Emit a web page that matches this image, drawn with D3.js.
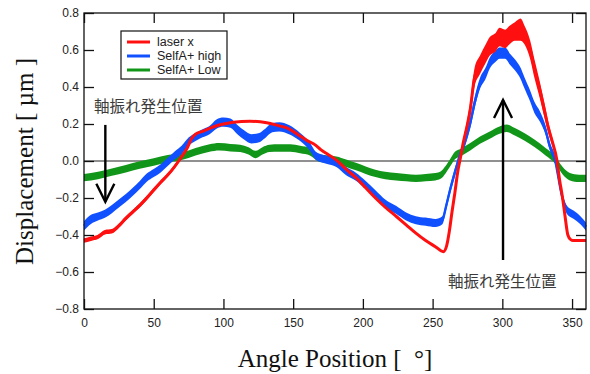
<!DOCTYPE html>
<html>
<head>
<meta charset="utf-8">
<script src="https://cdn.jsdelivr.net/npm/d3@7"></script>
<style>
  body { margin: 0; background: #fff; }
  svg { display: block; }
</style>
</head>
<body>
<div id="chart"></div>
<script>
// [angle (deg), displacement (um), half spread of the noisy trace (um)]
const laserX = [
  [0, -0.43, 0.012], [5, -0.42, 0.012], [10, -0.41, 0.012], [15, -0.385, 0.012], [20, -0.38, 0.012],
  [25, -0.35, 0.012], [30, -0.31, 0.012], [35, -0.275, 0.012], [40, -0.24, 0.012], [45, -0.2, 0.012],
  [50, -0.157, 0.012], [55, -0.115, 0.01], [60, -0.076, 0.01], [65, -0.03, 0.01], [70, 0.023, 0.008],
  [74, 0.07, 0.006], [77, 0.12, 0.004], [80, 0.145, 0.004], [85, 0.16, 0.004], [93, 0.185, 0.004],
  [100, 0.2, 0.004], [107, 0.21, 0.004], [119, 0.215, 0.004], [131, 0.207, 0.004], [140, 0.19, 0.004],
  [145, 0.18, 0.004], [150, 0.16, 0.004], [155, 0.135, 0.004], [160, 0.11, 0.004], [166, 0.086, 0.004],
  [170, 0.06, 0.004], [175, 0.035, 0.004], [181, 0.005, 0.004], [188, -0.045, 0.004], [195, -0.09, 0.004],
  [202, -0.145, 0.004], [209, -0.2, 0.004], [216, -0.25, 0.004], [224, -0.3, 0.004], [231, -0.345, 0.004],
  [238, -0.39, 0.004], [245, -0.43, 0.004], [252, -0.463, 0.004], [257.7, -0.49, 0.004], [260, -0.46, 0.006],
  [262, -0.38, 0.008], [264, -0.27, 0.01], [266, -0.17, 0.01], [268, -0.06, 0.012], [270, 0.02, 0.015],
  [272, 0.1, 0.02], [275, 0.2, 0.03], [277, 0.28, 0.04], [280, 0.45, 0.05], [284, 0.52, 0.05],
  [288, 0.58, 0.05], [291, 0.62, 0.05], [295, 0.64, 0.05], [298, 0.67, 0.05], [302, 0.66, 0.05],
  [305, 0.68, 0.05], [309, 0.7, 0.05], [313, 0.71, 0.06], [316, 0.68, 0.05], [320, 0.6, 0.05],
  [323, 0.5, 0.05], [327, 0.38, 0.045], [330, 0.28, 0.04], [333, 0.18, 0.03], [336, 0.1, 0.02],
  [339, 0.01, 0.015], [341, -0.1, 0.01], [343, -0.19, 0.01], [345, -0.3, 0.008], [347, -0.4, 0.006],
  [349, -0.425, 0.006], [351, -0.43, 0.006], [355, -0.43, 0.006], [360, -0.43, 0.006]
];

const selfHigh = [
  [0, -0.35, 0.025], [5, -0.315, 0.025], [10, -0.3, 0.022], [15, -0.285, 0.022], [20, -0.26, 0.022],
  [25, -0.23, 0.022], [30, -0.2, 0.022], [35, -0.166, 0.022], [40, -0.13, 0.022], [45, -0.09, 0.022],
  [50, -0.065, 0.022], [55, -0.04, 0.022], [60, -0.005, 0.022], [65, 0.03, 0.022], [70, 0.06, 0.022],
  [75, 0.105, 0.022], [80, 0.13, 0.022], [85, 0.15, 0.022], [90, 0.167, 0.022], [95, 0.2, 0.025],
  [100, 0.21, 0.025], [105, 0.205, 0.025], [110, 0.17, 0.025], [115, 0.14, 0.025], [120, 0.12, 0.025],
  [125, 0.125, 0.025], [130, 0.15, 0.025], [135, 0.18, 0.025], [140, 0.185, 0.025], [147, 0.17, 0.025],
  [155, 0.13, 0.022], [162, 0.077, 0.022], [166, 0.03, 0.022], [170, 0.015, 0.022], [175, 0.005, 0.022],
  [181, -0.01, 0.022], [188, -0.055, 0.022], [195, -0.085, 0.022], [202, -0.13, 0.022], [209, -0.18, 0.022],
  [216, -0.23, 0.022], [224, -0.265, 0.022], [231, -0.3, 0.022], [238, -0.32, 0.022], [245, -0.328, 0.022],
  [252, -0.335, 0.022], [257, -0.32, 0.022], [259.5, -0.25, 0.022], [262.5, -0.157, 0.022], [266, -0.06, 0.022],
  [270, 0.04, 0.022], [273, 0.1, 0.025], [277, 0.205, 0.028], [280, 0.31, 0.03], [284, 0.42, 0.03],
  [288, 0.475, 0.03], [291, 0.53, 0.03], [295, 0.565, 0.03], [298, 0.583, 0.03], [302, 0.583, 0.03],
  [305.5, 0.55, 0.03], [309, 0.52, 0.03], [313, 0.475, 0.03], [316, 0.42, 0.03], [320, 0.35, 0.03],
  [323, 0.29, 0.03], [327, 0.24, 0.028], [331, 0.167, 0.025], [334, 0.08, 0.022], [338, 0.0, 0.022],
  [339.5, -0.06, 0.022], [342.5, -0.18, 0.022], [346, -0.26, 0.022], [351, -0.29, 0.022], [356, -0.32, 0.022],
  [360, -0.355, 0.022]
];

const selfLow = [
  [0, -0.09, 0.02], [10, -0.078, 0.02], [20, -0.06, 0.02], [30, -0.042, 0.02], [40, -0.022, 0.02],
  [50, -0.005, 0.02], [60, 0.012, 0.02], [70, 0.025, 0.02], [80, 0.05, 0.02], [90, 0.07, 0.02],
  [97, 0.077, 0.02], [105, 0.072, 0.02], [112, 0.068, 0.02], [118, 0.055, 0.02], [123, 0.035, 0.02],
  [128, 0.055, 0.02], [133, 0.068, 0.02], [140, 0.07, 0.02], [148, 0.07, 0.02], [155, 0.062, 0.02],
  [162, 0.05, 0.02], [169, 0.015, 0.02], [175, 0.01, 0.02], [181, 0.005, 0.02], [188, -0.012, 0.02],
  [195, -0.03, 0.02], [202, -0.05, 0.02], [209, -0.067, 0.02], [216, -0.078, 0.02], [224, -0.085, 0.02],
  [231, -0.09, 0.02], [238, -0.094, 0.02], [245, -0.09, 0.02], [252, -0.085, 0.02], [256, -0.075, 0.02],
  [259, -0.05, 0.02], [262.5, -0.01, 0.02], [266, 0.03, 0.02], [270, 0.045, 0.02], [277, 0.077, 0.02],
  [284, 0.113, 0.02], [291, 0.14, 0.02], [298, 0.167, 0.02], [303, 0.177, 0.02], [309, 0.158, 0.02],
  [316, 0.13, 0.02], [323, 0.096, 0.02], [331, 0.05, 0.02], [338, 0.005, 0.02], [343, -0.05, 0.02],
  [348.5, -0.085, 0.02], [355, -0.094, 0.02], [360, -0.094, 0.02]
];

const seriesNames = ['laser x', 'SelfA+ high', 'SelfA+ Low'];
const seriesColors = ['#ff1010', '#1050ff', '#11961a'];
const xTicks = [0, 50, 100, 150, 200, 250, 300, 350];
const yTicks = [-0.8, -0.6, -0.4, -0.2, 0.0, 0.2, 0.4, 0.6, 0.8];
const noteText = '軸振れ発生位置';

const width = 590, height = 374;
const margin = { top: 13, right: 4, bottom: 65, left: 84 };
const w = width - margin.left - margin.right,
      h = height - margin.top - margin.bottom;

const x = d3.scaleLinear().domain([0, 360]).range([0, w]);
const y = d3.scaleLinear().domain([-0.8, 0.8]).range([h, 0]);

const svg = d3.select('#chart').append('svg')
    .attr('width', width)
    .attr('height', height);

const main = svg.append('g')
    .attr('transform', 'translate(' + margin.left + ',' + margin.top + ')');

// zero line
main.append('line')
    .attr('x1', 0).attr('x2', w)
    .attr('y1', y(0)).attr('y2', y(0))
    .attr('stroke', '#222').attr('stroke-width', 1.2);

// traces: noisy band + center line, green under blue under red
const band = d3.area()
    .x(d => x(d[0]))
    .y0(d => y(d[1] - d[2]))
    .y1(d => y(d[1] + d[2]))
    .curve(d3.curveMonotoneX);
const line = d3.line()
    .x(d => x(d[0]))
    .y(d => y(d[1]))
    .curve(d3.curveMonotoneX);

const traces = [laserX, selfHigh, selfLow];
const lineWidths = [3, 2.4, 2.4];
[2, 1, 0].forEach(function (i) {
    main.append('path').datum(traces[i])
        .attr('d', band)
        .attr('fill', seriesColors[i]);
    main.append('path').datum(traces[i])
        .attr('d', line)
        .attr('fill', 'none')
        .attr('stroke', seriesColors[i])
        .attr('stroke-width', lineWidths[i]);
});

// axes with inward ticks on all four sides
const tickFont = 'Arial, "Liberation Sans", sans-serif';
function styleAxis(g) {
    g.selectAll('.domain').remove();
    g.selectAll('line').attr('stroke', '#111').attr('stroke-width', 1.3);
    g.selectAll('text').attr('fill', '#222').style('font-family', tickFont).style('font-size', '12px');
}

main.append('g')
    .attr('transform', 'translate(0,' + h + ')')
    .call(d3.axisBottom(x).tickValues(xTicks).tickSizeInner(-10).tickSizeOuter(0).tickPadding(9))
    .call(styleAxis);
main.append('g')
    .call(d3.axisTop(x).tickValues(xTicks).tickSizeInner(-10).tickSizeOuter(0).tickFormat(''))
    .call(styleAxis);
main.append('g')
    .call(d3.axisLeft(y).tickValues(yTicks).tickSizeInner(-10).tickSizeOuter(0).tickPadding(5).tickFormat(d3.format('.1f')))
    .call(styleAxis);
main.append('g')
    .attr('transform', 'translate(' + w + ',0)')
    .call(d3.axisRight(y).tickValues(yTicks).tickSizeInner(-10).tickSizeOuter(0).tickFormat(''))
    .call(styleAxis);

main.append('rect')
    .attr('width', w).attr('height', h)
    .attr('fill', 'none')
    .attr('stroke', '#111').attr('stroke-width', 1.3);

// annotations
function arrow(a, from, to) {
    const g = main.append('g').attr('stroke', '#000').attr('stroke-width', 2.4).attr('fill', 'none');
    const dir = to > from ? 1 : -1;
    g.append('line')
        .attr('x1', x(a)).attr('x2', x(a))
        .attr('y1', y(from)).attr('y2', y(to));
    g.append('path')
        .attr('d', 'M' + (x(a) - 9) + ',' + (y(to) + dir * 18) + 'L' + x(a) + ',' + y(to) + 'L' + (x(a) + 9) + ',' + (y(to) + dir * 18));
}
arrow(15.3, 0.195, -0.22);
arrow(300.5, -0.535, 0.33);

const noteFont = '"Noto Sans CJK JP", "Noto Sans CJK SC", sans-serif';
main.append('text')
    .attr('x', x(7.2)).attr('y', y(0.265))
    .attr('fill', '#3a3a3a')
    .style('font-family', noteFont).style('font-size', '15.5px')
    .text(noteText);
main.append('text')
    .attr('x', x(261)).attr('y', y(-0.68))
    .attr('fill', '#3a3a3a')
    .style('font-family', noteFont).style('font-size', '15.5px')
    .text(noteText);

// legend
const legend = svg.append('g').attr('transform', 'translate(121,31)');
legend.append('rect')
    .attr('width', 106).attr('height', 48)
    .attr('fill', '#fff')
    .attr('stroke', '#111').attr('stroke-width', 1.2);
seriesNames.forEach(function (name, i) {
    const row = legend.append('g').attr('transform', 'translate(0,' + (11 + i * 14) + ')');
    row.append('line')
        .attr('x1', 6).attr('x2', 29)
        .attr('stroke', seriesColors[i]).attr('stroke-width', 3);
    row.append('text')
        .attr('x', 36).attr('dy', '0.35em')
        .attr('fill', '#222')
        .style('font-family', tickFont).style('font-size', '12.5px')
        .text(name);
});

// axis titles
const titleFont = '"Liberation Serif", "Times New Roman", serif';
svg.append('text')
    .attr('transform', 'translate(33,161.5) rotate(-90)')
    .attr('text-anchor', 'middle')
    .attr('fill', '#111')
    .attr('textLength', 207).attr('lengthAdjust', 'spacingAndGlyphs')
    .style('font-family', titleFont).style('font-size', '26px')
    .text('Displacement [ µm ]');
svg.append('text')
    .attr('x', 335).attr('y', 367)
    .attr('text-anchor', 'middle')
    .attr('fill', '#111')
    .attr('xml:space', 'preserve')
    .style('white-space', 'pre')
    .style('font-family', titleFont).style('font-size', '25px')
    .text('Angle Position [  °]');
</script>
</body>
</html>
